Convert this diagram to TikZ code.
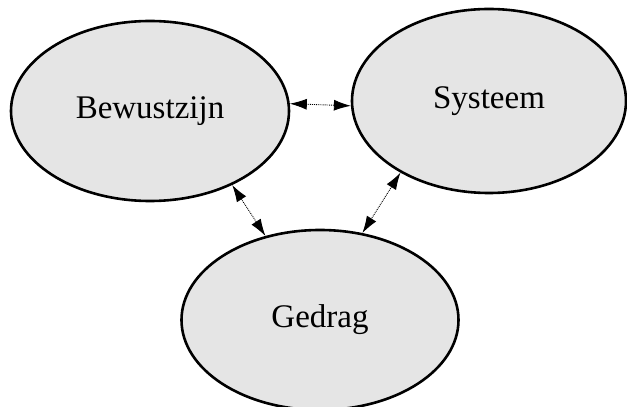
\documentclass[tikz,border=0pt]{standalone}
\usepackage{fontspec}
\setmainfont{Liberation Serif}
\usetikzlibrary{shapes.geometric,arrows.meta}
\tikzset{blob/.style={ellipse, draw=black, line width=2.6pt, fill=gray!20, minimum width=278pt, minimum height=180pt, inner sep=0pt, font=\fontsize{33}{38}\selectfont},
         link/.style={densely dotted, line width=0.9pt, {Latex[length=17pt,width=11pt]}-{Latex[length=17pt,width=11pt]}}}

\begin{document}
\begin{tikzpicture}[x=1pt,y=1pt]
   \useasboundingbox (0,0) rectangle (627,407);
   \node[blob] (bew) at (150,296) {Bewustzijn};
   \node[blob, minimum width=274pt, minimum height=184pt] (sys) at (489,306) {Systeem};
   \node[blob, minimum width=277pt] (ged) at (320,87) {Gedrag};
   \draw[link] (bew.3) -- (sys.182);
   \draw[link] (bew.-42) -- (ged.123);
   \draw[link] (sys.-141) -- (ged.64);
\end{tikzpicture}
\end{document}
